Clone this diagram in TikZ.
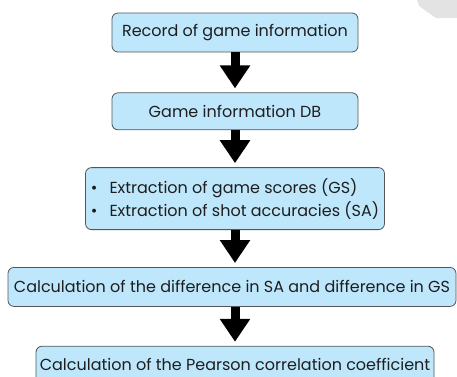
\documentclass[tikz,border=0pt]{standalone}
\usepackage{fontspec}
\setmainfont{Poppins}
\usetikzlibrary{positioning,arrows.meta}
\definecolor{boxblue}{RGB}{190,231,252}
\definecolor{boxline}{RGB}{85,85,85}
\definecolor{txt}{RGB}{30,30,30}

\begin{document}
\begin{tikzpicture}[
	x=1pt, y=1pt,
	node distance=39pt,
	align=center,
	font=\fontsize{16}{23}\selectfont,
	text=txt,
	stepbox/.style={
		rectangle,
		rounded corners=6pt,
		draw=boxline,
		line width=0.8pt,
		fill=boxblue,
		minimum height=39pt,
		inner sep=0pt
	},
	flow/.style={
		line width=9pt,
		-{Triangle[width=29pt,length=23pt]},
		shorten >=4pt
	}]

	\useasboundingbox (0,0) rectangle (457,-376);
	% grey patch in the top right corner
	\fill[gray!22] (417,0) -- (419,-6) -- (436,-18) -- (457,-18) -- (457,0) -- cycle;

	\node[stepbox, minimum width=246pt] (s_0) at (235,-32.5) {Record of game information};
	\node[stepbox, minimum width=246pt, minimum height=37pt, below=40pt of s_0] (s_1) {Game information DB};
	\node[stepbox, minimum width=299pt, minimum height=62pt, below=37pt of s_1, align=left] (s_2)
		{•\hspace{12pt}Extraction of game scores (GS)\\ •\hspace{12pt}Extraction of shot accuracies (SA)};
	\node[stepbox, minimum width=448pt, below=37pt of s_2, xshift=-3pt] (s_3) {Calculation of the difference in SA and difference in GS};
	\node[stepbox, minimum width=398pt, minimum height=37pt, below=of s_3, xshift=3pt] (s_4) {Calculation of the Pearson correlation coefficient};

	\draw[flow] (s_0.south) -- (s_1.north);
	\draw[flow] (s_1.south) -- (s_2.north);
	\draw[flow] (s_2.south) -- (s_3.north -| s_2.south);
	\draw[flow] (s_3.south -| s_2.south) -- (s_4.north -| s_2.south);
\end{tikzpicture}
\end{document}
